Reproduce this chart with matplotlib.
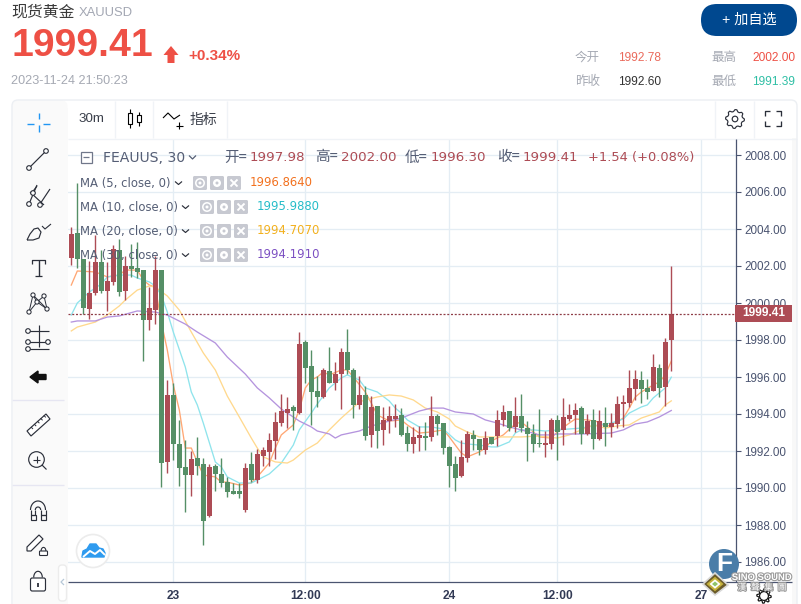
import numpy as np
import matplotlib
matplotlib.use('Agg')
import matplotlib.pyplot as plt
import matplotlib.patheffects as pe
from matplotlib.patches import Rectangle, Circle, FancyBboxPatch, Polygon

plt.rcParams['font.family'] = ['Liberation Sans', 'Noto Sans CJK SC', 'DejaVu Sans']

# candles, one row of four per 30m bar
opens = [2002.43, 2003.78, 2002.38, 1999.68, 2000.54, 2002.22, 2000.65, 2001.14, 2002.86, 2000.65,
         2002.00, 2001.89, 2001.78, 1999.08, 1999.62, 2001.78, 1991.41, 1995.03, 1992.38, 1991.14,
         1990.70, 1991.62, 1991.30, 1988.49, 1991.19, 1990.76, 1990.32, 1989.84, 1989.84, 1988.81,
         1991.30, 1990.43, 1991.73, 1991.95, 1992.54, 1993.51, 1994.05, 1994.38, 1994.05, 1997.89,
         1996.59, 1995.24, 1994.92, 1996.32, 1995.68, 1996.16, 1997.35, 1996.38, 1994.49, 1995.03,
         1992.87, 1994.43, 1993.14, 1993.62, 1993.73, 1993.95, 1992.97, 1992.38, 1992.70, 1992.81,
         1992.76, 1993.89, 1993.51, 1992.22, 1991.30, 1990.65, 1991.62, 1992.87, 1992.65, 1992.05,
         1992.76, 1992.81, 1993.68, 1994.16, 1993.30, 1993.89, 1993.24, 1992.92, 1992.43, 1992.32,
         1992.38, 1993.68, 1993.14, 1993.73, 1993.95, 1994.32, 1992.92, 1993.68, 1992.65, 1993.51,
         1993.30, 1993.46, 1994.54, 1994.59, 1995.35, 1995.84, 1995.41, 1995.24, 1996.49, 1995.46,
         1997.98]
highs = [2004.11, 2006.49, 2002.38, 2002.27, 2003.68, 2002.86, 2002.22, 2003.13, 2003.46, 2002.54,
         2003.19, 2003.30, 2001.78, 2000.86, 2002.54, 2001.78, 1995.84, 1995.68, 1993.68, 1992.60,
         1992.00, 1992.76, 1991.62, 1991.30, 1991.30, 1991.62, 1990.60, 1990.27, 1990.27, 1991.35,
         1991.95, 1992.11, 1992.22, 1992.97, 1994.11, 1995.08, 1994.92, 1994.49, 1998.43, 1998.00,
         1997.46, 1996.05, 1996.49, 1997.62, 1996.81, 1997.57, 1998.59, 1996.49, 1996.05, 1995.51,
         1994.97, 1994.43, 1994.38, 1994.43, 1994.54, 1994.32, 1993.35, 1993.30, 1993.35, 1993.57,
         1994.97, 1994.00, 1993.51, 1992.27, 1991.73, 1992.60, 1993.08, 1993.14, 1992.65, 1993.08,
         1992.76, 1994.22, 1994.49, 1994.16, 1994.92, 1995.08, 1993.62, 1993.46, 1994.27, 1993.08,
         1993.78, 1993.95, 1994.87, 1994.54, 1994.59, 1994.43, 1994.00, 1994.27, 1994.22, 1994.38,
         1994.05, 1994.97, 1995.03, 1996.38, 1996.38, 1996.32, 1995.89, 1997.24, 1996.70, 1998.11,
         2002.00]
lows = [2002.05, 2001.89, 1999.41, 1999.14, 2000.43, 2000.54, 1999.57, 2000.97, 2000.38, 2000.16,
        2001.41, 2001.35, 1996.87, 1998.54, 1998.86, 1990.05, 1990.81, 1991.51, 1990.11, 1988.70,
        1989.57, 1990.70, 1986.92, 1988.43, 1989.84, 1990.05, 1989.51, 1989.68, 1989.46, 1988.70,
        1990.32, 1990.27, 1991.19, 1991.19, 1991.57, 1993.35, 1993.24, 1993.14, 1994.00, 1995.68,
        1993.41, 1994.38, 1994.87, 1995.68, 1995.30, 1994.27, 1996.16, 1993.78, 1994.27, 1992.60,
        1992.22, 1992.16, 1992.32, 1992.97, 1993.30, 1992.81, 1992.00, 1991.89, 1992.00, 1992.05,
        1992.54, 1992.87, 1991.84, 1990.05, 1989.84, 1990.60, 1991.41, 1992.05, 1991.78, 1991.84,
        1992.38, 1992.27, 1993.35, 1993.08, 1993.03, 1993.03, 1991.46, 1991.95, 1992.22, 1991.68,
        1992.11, 1991.51, 1992.32, 1993.62, 1992.92, 1992.38, 1992.87, 1992.11, 1992.60, 1992.27,
        1992.76, 1993.24, 1993.30, 1994.38, 1994.76, 1994.59, 1994.81, 1995.24, 1994.92, 1994.43,
        1996.30]
closes = [2003.73, 2002.38, 1999.73, 2000.54, 2002.22, 2000.65, 2001.19, 2002.92, 2000.59, 2002.00,
          2001.84, 2001.68, 1999.08, 1999.73, 2001.78, 1991.35, 1995.03, 1992.38, 1991.08, 1990.70,
          1991.57, 1991.19, 1988.22, 1991.14, 1990.76, 1990.27, 1989.78, 1989.68, 1989.68, 1991.08,
          1990.43, 1991.84, 1992.05, 1992.60, 1993.57, 1994.16, 1994.27, 1994.16, 1997.78, 1996.49,
          1995.19, 1994.92, 1996.38, 1995.68, 1996.16, 1997.35, 1996.38, 1994.49, 1995.03, 1992.81,
          1994.38, 1993.08, 1993.68, 1993.89, 1993.89, 1992.87, 1992.38, 1992.76, 1992.87, 1992.70,
          1993.89, 1993.46, 1992.16, 1991.19, 1990.54, 1991.68, 1992.92, 1992.65, 1992.05, 1992.70,
          1992.38, 1993.68, 1994.11, 1993.24, 1993.89, 1993.24, 1992.92, 1992.38, 1992.38, 1992.43,
          1993.68, 1993.03, 1993.84, 1993.95, 1994.22, 1992.92, 1993.62, 1992.65, 1993.62, 1993.30,
          1993.51, 1994.54, 1994.65, 1995.41, 1995.89, 1995.35, 1995.19, 1996.54, 1995.41, 1997.87,
          1999.41]

# moving averages at these bars
ma5_idx = [0, 1, 4, 6, 8, 9, 11, 12, 13, 14, 15, 16, 17, 18, 19, 20, 21, 22, 24, 25, 26, 28, 30, 31, 33,
           34, 35, 37, 38, 39, 40, 41, 42, 43, 45, 46, 47, 49, 50, 51, 53, 55, 56, 58, 60, 62, 63, 64,
           65, 66, 68, 69, 70, 72, 74, 75, 76, 78, 80, 81, 83, 84, 86, 88, 89, 90, 92, 93, 94, 95, 97,
           98, 99, 100]
ma5 = [2000.97, 2001.73, 2001.68, 2001.41, 2001.51, 2001.78, 2001.78, 2001.24, 2000.97, 2000.86,
       1998.97, 1997.46, 1995.57, 1994.22, 1992.16, 1992.16, 1991.41, 1990.70, 1990.60, 1990.32,
       1990.32, 1990.16, 1990.27, 1990.60, 1991.35, 1992.16, 1992.87, 1993.41, 1994.22, 1995.41,
       1995.84, 1996.00, 1996.27, 1996.11, 1996.38, 1996.38, 1996.00, 1995.19, 1994.59, 1993.95,
       1993.62, 1993.68, 1993.41, 1992.97, 1993.03, 1993.14, 1992.76, 1992.32, 1991.89, 1991.68,
       1991.95, 1992.16, 1992.54, 1992.87, 1993.46, 1993.57, 1993.30, 1992.76, 1992.70, 1993.03,
       1993.51, 1993.73, 1993.68, 1993.57, 1993.30, 1993.41, 1993.78, 1994.32, 1994.92, 1995.19,
       1995.57, 1995.73, 1996.11, 1996.86]

ma10_idx = [0, 1, 3, 5, 6, 8, 10, 11, 13, 14, 15, 16, 17, 19, 20, 21, 22, 24, 25, 26, 28, 30, 31, 33,
            35, 37, 38, 40, 41, 43, 45, 46, 48, 49, 51, 53, 54, 55, 56, 58, 60, 62, 64, 65, 66, 68, 70,
            71, 73, 74, 75, 77, 79, 81, 83, 85, 88, 90, 92, 93, 95, 96, 97, 99, 100]
ma10 = [1999.35, 2000.00, 2000.59, 2001.03, 2001.41, 2001.51, 2001.51, 2001.35, 2001.14, 2000.92,
        2000.43, 1999.51, 1998.43, 1996.54, 1995.19, 1994.49, 1993.51, 1991.41, 1991.14, 1990.60,
        1990.27, 1990.27, 1990.43, 1990.76, 1991.35, 1992.32, 1993.14, 1994.05, 1994.54, 1995.41,
        1995.95, 1996.11, 1995.84, 1995.41, 1995.19, 1994.70, 1994.32, 1994.05, 1993.68, 1993.30,
        1993.30, 1993.19, 1992.60, 1992.43, 1992.38, 1992.32, 1992.22, 1992.22, 1992.49, 1992.97,
        1993.14, 1993.14, 1993.08, 1993.14, 1993.19, 1993.24, 1993.41, 1993.51, 1993.73, 1994.05,
        1994.38, 1994.49, 1994.87, 1995.41, 1995.99]

ma20_idx = [0, 1, 4, 6, 8, 9, 11, 13, 14, 16, 18, 20, 22, 24, 26, 28, 30, 31, 32, 34, 36, 37, 39, 41,
            43, 45, 48, 49, 51, 53, 55, 57, 59, 61, 63, 64, 66, 68, 71, 75, 78, 81, 83, 85, 87, 89, 91,
            93, 95, 98, 99, 100]
ma20 = [1998.49, 1998.70, 1998.97, 1999.35, 1999.84, 2000.16, 2000.70, 2000.92, 2000.86, 2000.38,
        1999.62, 1998.43, 1997.30, 1996.38, 1994.97, 1993.84, 1992.70, 1992.16, 1991.68, 1991.41,
        1991.35, 1991.51, 1992.05, 1992.43, 1993.14, 1993.78, 1994.65, 1994.76, 1994.92, 1995.03,
        1994.97, 1994.76, 1994.32, 1994.11, 1993.73, 1993.35, 1993.03, 1992.76, 1992.76, 1992.76,
        1992.81, 1992.70, 1992.87, 1993.14, 1993.41, 1993.24, 1993.35, 1993.41, 1993.78, 1994.11,
        1994.49, 1994.71]

ma30_idx = [0, 1, 4, 6, 8, 11, 14, 16, 19, 21, 24, 26, 29, 31, 33, 35, 38, 40, 41, 43, 44, 45, 48, 50,
            53, 55, 58, 60, 62, 64, 67, 69, 71, 73, 75, 78, 80, 81, 85, 90, 92, 94, 96, 98, 100]
ma30 = [1998.97, 1999.03, 1999.03, 1999.24, 1999.30, 1999.57, 1999.51, 1999.35, 1998.86, 1998.43,
        1997.84, 1997.08, 1996.16, 1995.41, 1994.87, 1994.27, 1993.62, 1993.30, 1993.08, 1992.92,
        1992.70, 1992.87, 1993.08, 1993.35, 1993.62, 1993.78, 1994.16, 1994.32, 1994.32, 1994.11,
        1994.00, 1993.68, 1993.51, 1993.30, 1993.14, 1992.87, 1992.87, 1992.92, 1992.92, 1992.97,
        1993.14, 1993.46, 1993.57, 1993.84, 1994.19]

x_tick_pos = [17, 39, 63, 81, 105]
x_tick_labels = ['23', '12:00', '24', '12:00', '27']
y_ticks = [1986, 1988, 1990, 1992, 1994, 1996, 1998, 2000, 2002, 2004, 2006, 2008]
last_price = 1999.41

ma_names = ['MA (5, close, 0)', 'MA (10, close, 0)', 'MA (20, close, 0)', 'MA (30, close, 0)']
ma_values = ['1996.8640', '1995.9880', '1994.7070', '1994.1910']

RED = '#ad4c55'
GREEN = '#558f66'
GRID = '#e4edf4'
AXIS = '#4a5470'
INK = '#2b2f3a'
W, H = 801, 604

fig = plt.figure(figsize=(W / 100, H / 100), dpi=100, facecolor='white')

# price chart, placed by pixel box
L, R, T, B = 68, 735.5, 138.5, 582
ax = fig.add_axes([L / W, 1 - B / H, (R - L) / W, (B - T) / H])
ax.set_xlim((L - 71.3) / 6, (R - 71.3) / 6)
ax.set_ylim(2000 - (B - 303) / 18.5, 2000 + (303 - T) / 18.5)
for s in ax.spines.values():
    s.set_visible(False)
ax.set_axisbelow(True)
ax.grid(True, color=GRID, lw=0.95)
ax.set_xticks(x_tick_pos, x_tick_labels, fontsize=8.6, color='#323a55', fontweight='bold')
ax.tick_params(axis='x', length=0, pad=6)
ax.yaxis.tick_right()
ax.set_yticks(y_ticks, ['%.2f' % v for v in y_ticks], fontsize=8.4, color=AXIS)
ax.tick_params(axis='y', length=3.5, width=0.8, color=AXIS, pad=3)

ax.plot(ma5_idx, ma5, color='#ffa774', lw=0.95, zorder=2)
ax.plot(ma10_idx, ma10, color='#8fe4ec', lw=0.95, zorder=2)
ax.plot(ma20_idx, ma20, color='#ffd98e', lw=0.95, zorder=2)
ax.plot(ma30_idx, ma30, color='#b594de', lw=0.95, zorder=2)

bars = np.arange(len(opens))
o, h, l, c = map(np.array, (opens, highs, lows, closes))
colors = [RED if c[i] >= o[i] else GREEN for i in bars]
ax.vlines(bars, l, h, colors=colors, lw=1.0, zorder=3)
ax.bar(bars, np.maximum(np.abs(c - o), 0.05), bottom=np.minimum(o, c), width=0.84, color=colors, zorder=4)
ax.axhline(last_price, color='#8f3d47', lw=0.9, ls=(0, (1.6, 1.4)), zorder=5)

# everything else sits on a transparent pixel-coordinate layer
ui = fig.add_axes([0, 0, 1, 1], zorder=10)
ui.set_xlim(0, W)
ui.set_ylim(H, 0)
ui.axis('off')


def line(xs, ys, color=INK, lw=0.85, **kw):
    kw.setdefault('zorder', 11)
    ui.plot(xs, ys, color=color, lw=lw, solid_capstyle='butt', **kw)


def ring(x, y, r=2.3, color=INK, lw=0.8, fc='white'):
    ui.add_patch(Circle((x, y), r, fc=fc, ec=color, lw=lw, zorder=12))


def box(x0, y0, x1, y1, fc, ec='none', lw=0, z=1):
    ui.add_patch(Rectangle((x0, y0), x1 - x0, y1 - y0, fc=fc, ec=ec, lw=lw, zorder=z))


def rbox(x0, y0, x1, y1, rad, fc, ec='none', lw=0, z=1):
    ui.add_patch(FancyBboxPatch((x0, y0), x1 - x0, y1 - y0, boxstyle='round,pad=0,rounding_size=%g' % rad,
                                fc=fc, ec=ec, lw=lw, zorder=z))


def txt(x, y, s, size, color=INK, ha='left', **kw):
    return ui.text(x, y, s, fontsize=size, color=color, ha=ha, va='center', zorder=20, **kw)


def cog(cx, cy, r0, r1, n, color=INK, lw=0.85):
    ang = np.linspace(0, 2 * np.pi, n * 4, endpoint=False)
    rad = np.where(np.arange(n * 4) % 4 < 2, r1, r0)
    ui.add_patch(Polygon(np.c_[cx + rad * np.cos(ang), cy + rad * np.sin(ang)], closed=True,
                         fc='white', ec=color, lw=lw, zorder=14, joinstyle='round'))


# header
txt(11, 12, '现货黄金', 11.4, '#3a3a3a')
txt(79, 12.5, 'XAUUSD', 9.4, '#a3a7b3')
txt(11, 46, '1999.41', 28.2, '#ee5045', fontweight='bold')
ui.add_patch(Polygon([(171, 46), (178.5, 55), (174.5, 55), (174.5, 63), (167.5, 63), (167.5, 55), (163.5, 55)],
                     fc='#ee5045', ec='none'))
txt(188, 55.5, '+0.34%', 11, '#ee5045', fontweight='bold')
txt(11, 81.5, '2023-11-24 21:50:23', 9.1, '#a5a9b3')
rbox(701, 4, 797, 36, 16, '#00488f')
txt(749, 20, '+ 加自选', 10.2, 'white', ha='center')
txt(575, 58, '今开', 9, '#a5a9b3')
txt(618, 58, '1992.78', 8.6, '#ea6a5c')
txt(711, 58, '最高', 9, '#a5a9b3')
txt(752, 58, '2002.00', 8.6, '#ee5045')
txt(575, 82, '昨收', 9, '#a5a9b3')
txt(618, 82, '1992.60', 8.6, '#333333')
txt(711, 82, '最低', 9, '#a5a9b3')
txt(752, 82, '1991.39', 8.6, '#2fbfa5')

# card and toolbars
rbox(12, 100, 797, 640, 6, 'none', ec='#eceff3', lw=1, z=3)
box(12.5, 108, 68, 604, '#fafafa')
ui.add_patch(FancyBboxPatch((12.5, 100.5), 55, 30, boxstyle='round,pad=0,rounding_size=6', fc='#fafafa', ec='none', zorder=1))
box(792, 138, 797, 604, '#f8f8f8')
line([68, 797], [138.5, 138.5], '#f0f3f7', 1, zorder=2)
for sx in (115, 153, 227, 715, 754):
    line([sx, sx], [101, 138], '#f0f3f7', 1, zorder=2)
line([12, 64], [400, 400], '#e6e6f2', 1, zorder=2)
line([12, 64], [485, 485], '#e6e6f2', 1, zorder=2)
line([735.5, 735.5], [138.5, 582], AXIS, 0.9, zorder=6)
line([68, 792], [581.8, 581.8], AXIS, 0.9, zorder=6)

# price tag
box(735, 305, 792, 322, RED, z=8)
txt(763.5, 313.5, '1999.41', 8.6, 'white', ha='center', fontweight='bold')

# top bar
txt(91, 119, '30m', 9.6, '#3a3f4a', ha='center')
line([130, 130], [109, 128], 'black', 0.8)
box(128.2, 113, 131.8, 124, 'white', ec='black', lw=0.8, z=12)
line([139, 139], [112, 126], 'black', 0.8)
box(137.2, 115, 140.8, 122, 'white', ec='black', lw=0.8, z=12)
line([163, 168, 174, 180], [118, 113, 119, 115], 'black', 0.8)
line([179, 179], [122, 129], 'black', 0.8)
line([175.5, 183], [125.5, 125.5], 'black', 0.8)
txt(190, 120, '指标', 10, '#3a3f4a')
cog(735, 119, 7.6, 9.4, 8)
ui.add_patch(Circle((735, 119), 2.8, fc='white', ec=INK, lw=0.85, zorder=15))
for fx, fy, dx, dy in ((765, 111, 1, 1), (781, 111, -1, 1), (765, 126, 1, -1), (781, 126, -1, -1)):
    line([fx + 5 * dx, fx, fx], [fy, fy, fy + 5 * dy], INK, 0.95)

# left bar icons
line([38.5, 38.5], [113, 119], '#2196f3', 1)
line([38.5, 38.5], [125, 132], '#2196f3', 1)
line([27, 34], [124, 124], '#2196f3', 1)
line([43, 50], [124, 124], '#2196f3', 1)
line([29, 46], [168, 151])
ring(29, 168)
ring(46, 151)
for x0, y0, x1, y1 in ((29, 204, 37, 185), (40, 204, 50, 189), (30, 192, 44, 205), (31, 194, 37, 186)):
    line([x0, x1], [y0, y1])
ring(29, 204)
ring(40, 205)
ring(33, 193)
line([27, 30, 34, 38, 41, 39, 33, 27], [240, 234, 229, 228, 232, 238, 240, 240])
line([42, 45, 51], [226, 229, 224], INK, 0.8)
line([38.5, 38.5], [260, 276], INK, 1)
line([32, 32, 45, 45], [264, 260, 260, 264], INK, 0.9)
line([35, 42], [276, 276], INK, 0.9)
for a, b in (((29, 312), (33, 295)), ((33, 295), (37, 302)), ((37, 302), (44, 296)), ((44, 296), (47, 309)),
             ((29, 312), (37, 302)), ((37, 302), (47, 309)), ((33, 295), (47, 309))):
    line([a[0], b[0]], [a[1], b[1]], INK, 0.7)
for px, py in ((29, 312), (33, 295), (37, 302), (44, 296), (47, 309)):
    ring(px, py, 2.1, lw=0.75)
for sy in (331, 342, 349):
    line([29, 49], [sy, sy])
ring(28, 331)
ring(28, 342)
ring(48, 342)
ring(28, 349)
line([38.5, 38.5], [325, 347])
ui.add_patch(Polygon([(30, 377), (38, 371), (38, 374.5), (46, 374.5), (46, 379.5), (38, 379.5), (38, 383)], fc='#111111', ec='#111111', lw=1))
ui.add_patch(Polygon([(27, 431), (46, 414), (50, 419), (31, 436)], fc='white', ec=INK, lw=0.85, zorder=5))
for k in range(5):
    line([31 + 3.2 * k, 33 + 3.2 * k], [427 - 2.9 * k, 429 - 2.9 * k], INK, 0.7)
ring(36.5, 459.5, 7.8, lw=0.85, fc='none')
line([33, 40], [459.5, 459.5], INK, 0.8)
line([36.5, 36.5], [456, 463], INK, 0.8)
line([42, 46.5], [465, 469.5], INK, 0.85)
ui.add_patch(Rectangle((30.5, 515), 5, 4.5, fc='none', ec=INK, lw=0.85))
ui.add_patch(Rectangle((40.5, 515), 5, 4.5, fc='none', ec=INK, lw=0.85))
th = np.linspace(np.pi, 2 * np.pi, 30)
line(38 + 7.5 * np.cos(th), 510 + 9 * np.sin(th))
line(38 + 2.7 * np.cos(th), 510 + 3 * np.sin(th))
line([30.5, 30.5, 35.3, 35.3], [510, 515, 515, 510])
line([45.5, 45.5, 40.7, 40.7], [510, 515, 515, 510])
ui.add_patch(Polygon([(27, 547), (39, 535), (43, 539), (31, 551), (27, 551)], fc='white', ec=INK, lw=0.85))
rbox(39.5, 551, 47.5, 555.5, 0.8, 'white', ec=INK, lw=0.8, z=5)
line(43.5 + 2.4 * np.cos(th), 551 + 3.6 * np.sin(th), INK, 0.8)
rbox(30.5, 578, 45.5, 591, 1.8, 'white', ec=INK, lw=0.85, z=5)
line(38 + 4.3 * np.cos(th), 578 + 6.2 * np.sin(th) - 0.5)
line([38, 38], [583, 586.5], INK, 1.3)
rbox(58.5, 565, 66.5, 601, 3.5, 'white', ec='#ececec', lw=1, z=5)
line([64, 61, 64], [579, 582, 585], '#b7c8d8', 0.9)

# chart legend
box(80.5, 151.5, 91.5, 162.5, 'white', ec='#70778a', lw=0.9, z=12)
line([83, 89], [157, 157], '#70778a', 0.9, zorder=13)
LEG = '#555e75'
txt(103, 157.5, 'FEAUUS, 30', 10.1, LEG, family=['DejaVu Sans'])
for lx, ly in ((189, 155.5),):
    line([lx, lx + 3.5, lx + 7], [ly, ly + 3.5, ly], LEG, 0.9)
for lx, label, val in ((224, '开=', '1997.98'), (315, '高=', '2002.00'), (405, '低=', '1996.30'), (497, '收=', '1999.41')):
    txt(lx, 157.5, label, 10.5, LEG, family=['Noto Sans CJK SC'])
    txt(lx + 26, 157.5, val, 9.6, RED, family=['DejaVu Sans'])
txt(588, 157.5, '+1.54 (+0.08%)', 9.35, RED, family=['DejaVu Sans'])

ma_text_colors = ['#f2701d', '#25bcc8', '#f2b01d', '#7b4fc2']
for k, (name, val) in enumerate(zip(ma_names, ma_values)):
    ty = 183 + 24 * k
    bx = 193 if k == 0 else 200
    txt(80, ty, name, 8.4, LEG, family=['DejaVu Sans'])
    line([bx - 18, bx - 14.5, bx - 11], [ty - 1.5, ty + 1.5, ty - 1.5], INK, 0.85)
    for j in range(3):
        rbox(bx + 17 * j, ty - 7, bx + 17 * j + 14, ty + 7, 1.5, '#c7c9d1', z=12)
    ui.add_patch(Circle((bx + 7, ty), 4.2, fc='none', ec='white', lw=1.1, zorder=13))
    ui.add_patch(Circle((bx + 7, ty), 1.5, fc='white', ec='none', zorder=13))
    ui.add_patch(Circle((bx + 24, ty), 4, fc='white', ec='none', zorder=13))
    ui.add_patch(Circle((bx + 24, ty), 1.5, fc='#c7c9d1', ec='none', zorder=14))
    line([bx + 37.5, bx + 44.5], [ty - 3.5, ty + 3.5], 'white', 1.4, zorder=13)
    line([bx + 37.5, bx + 44.5], [ty + 3.5, ty - 3.5], 'white', 1.4, zorder=13)
    txt(bx + 57, ty, val, 8.4, ma_text_colors[k], family=['DejaVu Sans'])

# cloud button
ui.add_patch(Circle((93, 551), 16.5, fc='white', ec='#ececec', lw=1.2, zorder=12))
ui.add_patch(Polygon([(82, 557), (83, 551), (87, 549), (90, 544), (96, 544), (99, 548), (103, 549), (105, 553), (104, 557)],
                     fc='#2f9bef', ec='#2f9bef', lw=1, joinstyle='round', zorder=13))
line([83, 90, 95, 100, 105], [557, 551, 554, 550, 555], 'white', 1.4, zorder=14)

# watermark
ui.add_patch(Circle((724, 564), 15, fc='#4a7da8', ec='none', zorder=15))
txt(724.5, 564, 'F', 19, 'white', ha='center', fontweight='bold')
ui.add_patch(Polygon([(715, 573), (728, 585), (715, 595), (703, 584)], fc='#6b5b2a', ec='#d9d9d9', lw=1.2, zorder=16))
ui.add_patch(Polygon([(715, 578), (722, 584), (715, 590), (708, 584)], fc='white', ec='#c5b13a', lw=1.4, zorder=17))
ui.add_patch(Polygon([(715, 581.5), (718, 584), (715, 586.5), (712, 584)], fc='#8fc46a', ec='none', zorder=18))
halo = [pe.withStroke(linewidth=1.6, foreground='#9a9a9a')]
txt(762, 577.5, 'SINO SOUND', 6.8, 'white', ha='center', fontweight='bold', path_effects=halo)
txt(762, 587.5, '漢  聲  集  團', 6.2, 'white', ha='center', path_effects=halo)
cog(764, 596, 5.2, 7.2, 8, color='#111111', lw=0.85)
ui.add_patch(Circle((764, 596), 4.4, fc='white', ec='#111111', lw=0.85, zorder=15))

fig.savefig('out.png', dpi=100)
